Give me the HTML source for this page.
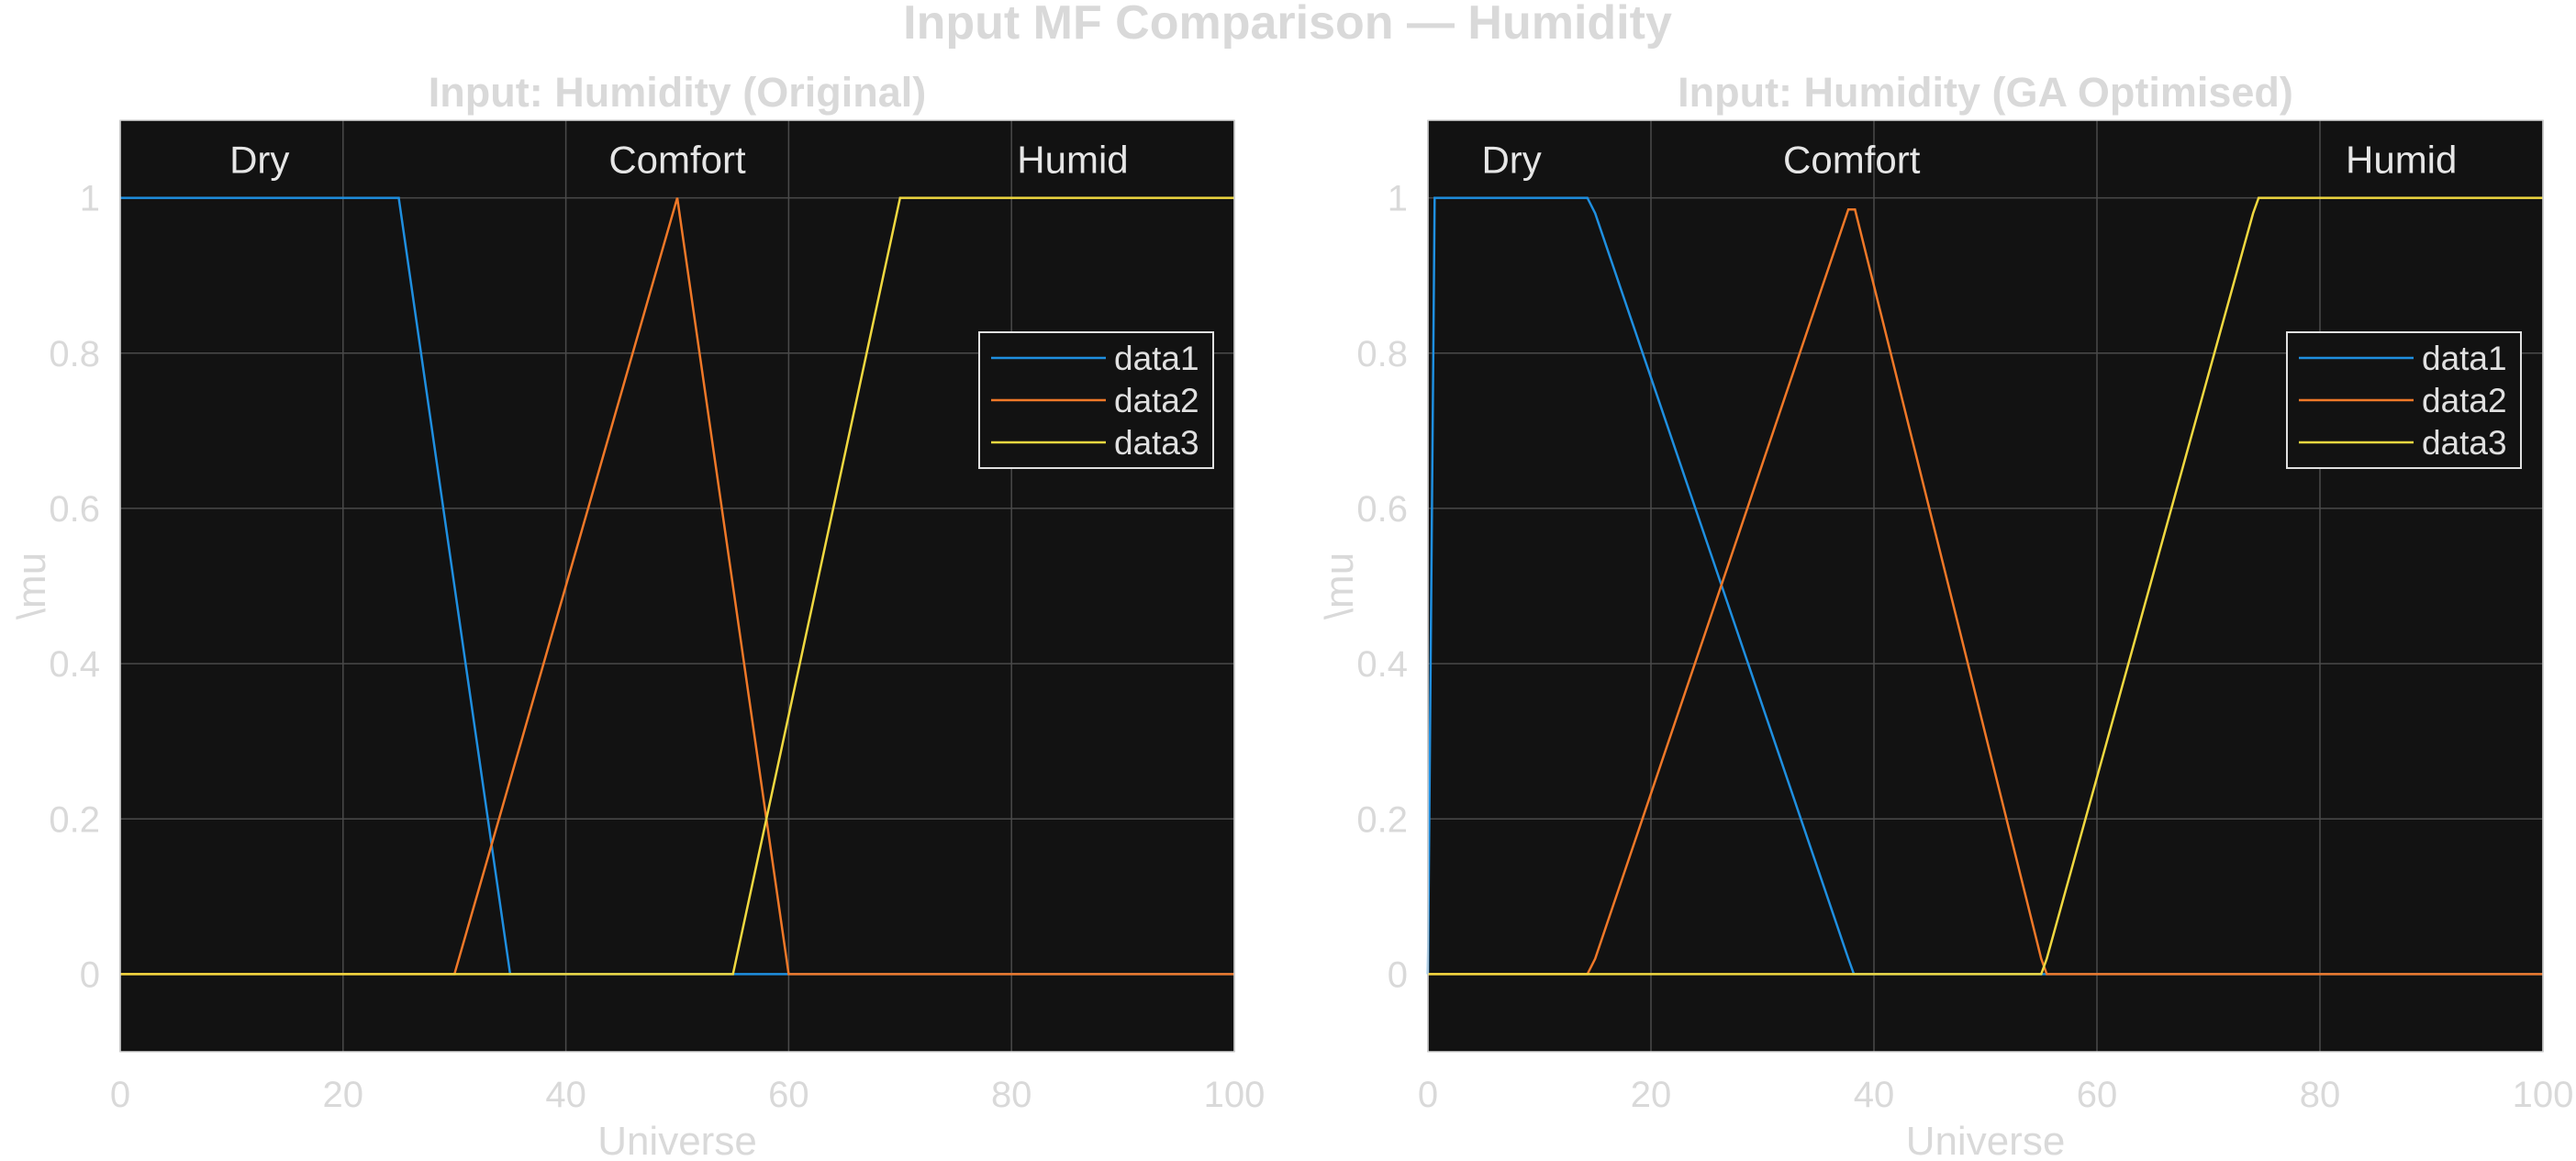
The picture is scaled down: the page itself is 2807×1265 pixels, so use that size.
<!DOCTYPE html>
<html><head><meta charset="utf-8"><style>
html,body{margin:0;padding:0;background:#fff;}
svg{display:block;font-family:"Liberation Sans",Arial,sans-serif;}
</style></head><body>
<svg id="fig" width="2807" height="1265" viewBox="0 0 2807 1265" xmlns="http://www.w3.org/2000/svg">
<text x="1403" y="42" text-anchor="middle" font-size="52" font-weight="bold" fill="#d9d9d9">Input MF Comparison — Humidity</text>
<g id="p1"></g>
<g id="p2"></g>
</svg>
<script>
const xTicks = [0,20,40,60,80,100];
const yTicks = [0,0.2,0.4,0.6,0.8,1];
const yTickLabels = ['0','0.2','0.4','0.6','0.8','1'];
const seriesNames = ['data1','data2','data3'];
const mfNames = ['Dry','Comfort','Humid'];
// Original
const origX1 = [0,25,35,100];  const origY1 = [1,1,0,0];
const origX2 = [0,30,50,60,100]; const origY2 = [0,0,1,0,0];
const origX3 = [0,55,70,100]; const origY3 = [0,0,1,1];
const origLabelX = [12.5,50,85.5];
// GA optimised
const gaX1 = [0,0.6,14.3,15,37.7,38.2,100]; const gaY1 = [0,1,1,0.98,0.02,0,0];
const gaX2 = [0,14.3,15,37.7,38.3,55,55.5,100]; const gaY2 = [0,0,0.02,0.985,0.985,0.02,0,0];
const gaX3 = [0,55,55.5,74,74.5,100]; const gaY3 = [0,0,0.02,0.98,1,1];
const gaLabelX = [7.5,38,87.3];

const colors = ['#1f8fe0','#f07828','#f0d840'];
const NS='http://www.w3.org/2000/svg';
function mk(tag, attrs, parent){const e=document.createElementNS(NS,tag);for(const k in attrs)e.setAttribute(k,attrs[k]);parent.appendChild(e);return e;}

function panel(g, L, R, title, xs, ys, labelX, legL){
  const T=131, B=1146, ymin=-0.1, ymax=1.1;
  const sx=v=>L+(v/100)*(R-L);
  const sy=v=>B-(v-ymin)/(ymax-ymin)*(B-T);
  const bg=mk('rect',{x:L,y:T,width:R-L,height:B-T,fill:'#121212'},g);
  
  
  xTicks.forEach(t=>{
    const l=mk('line',{x1:sx(t),x2:sx(t),y1:T,y2:B,stroke:'#4a4a4a','stroke-width':1.5},g);
    
    
    const tx=mk('text',{x:sx(t),y:1206,'text-anchor':'middle','font-size':40,fill:'#d9d9d9'},g);
    tx.textContent=t;
    
    
  });
  yTicks.forEach((t,i)=>{
    const l=mk('line',{x1:L,x2:R,y1:sy(t),y2:sy(t),stroke:'#4a4a4a','stroke-width':1.5},g);
    
    
    const tx=mk('text',{x:L-22,y:sy(t)+14,'text-anchor':'end','font-size':40,fill:'#d9d9d9'},g);
    tx.textContent=yTickLabels[i];
    
    
  });
  for(let s=0;s<3;s++){
    const pts=xs[s].map((x,i)=>sx(x)+','+sy(ys[s][i])).join(' ');
    const pl=mk('polyline',{points:pts,fill:'none',stroke:colors[s],'stroke-width':2.5},g);
    
    
    const lb=mk('text',{x:sx(labelX[s]),y:sy(1.05)+15,'text-anchor':'middle','font-size':42,fill:'#e6e6e6'},g);
    lb.textContent=mfNames[s];
    
    
  }
  const fr=mk('rect',{x:L,y:T,width:R-L,height:B-T,fill:'none',stroke:'#d9d9d9','stroke-width':1.5},g);
  
  
  const tt=mk('text',{x:(L+R)/2,y:116,'text-anchor':'middle','font-size':45,'font-weight':'bold',fill:'#d9d9d9'},g);
  tt.textContent=title;
  
  
  const xl=mk('text',{x:(L+R)/2,y:1258,'text-anchor':'middle','font-size':44,fill:'#d9d9d9'},g);
  xl.textContent='Universe';
  
  
  const yl=mk('text',{x:0,y:0,'text-anchor':'middle','font-size':44,fill:'#d9d9d9',transform:`translate(${L-82},${sy(0.5)}) rotate(-90)`},g);
  yl.textContent='\\mu';
  
  
  const lg=mk('g',{},g);
  
  
  mk('rect',{x:legL,y:362,width:255,height:148,fill:'#121212',stroke:'#e0e0e0','stroke-width':2},lg);
  for(let s=0;s<3;s++){
    const yy=390+46*s;
    const ln=mk('line',{x1:legL+13,x2:legL+138,y1:yy,y2:yy,stroke:colors[s],'stroke-width':2.5},lg);
    
    
    const lt=mk('text',{x:legL+147,y:yy+13,'font-size':37,fill:'#e0e0e0'},lg);
    lt.textContent=seriesNames[s];
    
    
  }
}
panel(document.getElementById('p1'),131,1345,'Input: Humidity (Original)',[origX1,origX2,origX3],[origY1,origY2,origY3],origLabelX,1067);
panel(document.getElementById('p2'),1556,2771,'Input: Humidity (GA Optimised)',[gaX1,gaX2,gaX3],[gaY1,gaY2,gaY3],gaLabelX,2492);
</script>
</body></html>
